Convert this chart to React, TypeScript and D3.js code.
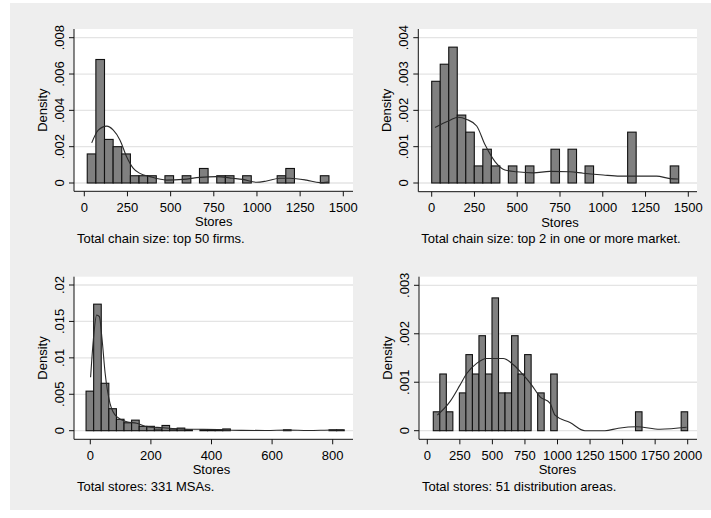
import React from 'react';
import * as d3 from 'd3';

// ---------- Panel 1: Total chain size, top 50 firms ----------
const p1BinStart = 17;
const p1BinWidth = 50;
const p1Density = [0.0016, 0.0068, 0.0024, 0.002, 0.0016, 0.0004, 0.0004, 0.0004, 0, 0.0004, 0, 0.0004, 0, 0.0008, 0, 0.0004, 0.0004, 0, 0.0004, 0, 0, 0, 0.0004, 0.0008, 0, 0, 0, 0.0004];
const p1KdeX = [43, 81, 130, 168, 207, 245, 284, 322, 380, 477, 573, 670, 766, 860, 918, 998, 1056, 1133, 1190, 1287, 1364, 1412];
const p1KdeY = [0.00221, 0.00291, 0.00313, 0.00291, 0.00236, 0.00145, 0.00081, 0.00053, 0.00035, 0.00016, 0.0002, 0.00031, 0.00035, 0.00026, 0.0002, 0.00004, 0.00011, 0.00026, 0.00026, 0.00016, 0.00002, 0.00005];
const p1XTicks = [0, 250, 500, 750, 1000, 1250, 1500];
const p1YTicks = [0, 0.002, 0.004, 0.006, 0.008];
const p1YLabels = ['0', '.002', '.004', '.006', '.008'];
const p1Caption = 'Total chain size: top 50 firms.';

// ---------- Panel 2: Total chain size, top 2 in one or more market ----------
const p2BinStart = 0;
const p2BinWidth = 49.8;
const p2Density = [0.0028, 0.00327, 0.00374, 0.00187, 0.0014, 0.00047, 0.00093, 0.00047, 0, 0.00047, 0, 0.00047, 0, 0, 0.00093, 0, 0.00093, 0, 0.00047, 0, 0, 0, 0, 0.0014, 0, 0, 0, 0, 0.00047];
const p2KdeX = [19, 107, 154, 205, 263, 312, 370, 428, 497, 594, 691, 808, 886, 1003, 1100, 1315, 1393, 1440];
const p2KdeY = [0.00153, 0.00173, 0.00181, 0.00175, 0.00157, 0.00105, 0.00059, 0.00036, 0.00031, 0.00028, 0.00032, 0.00031, 0.00027, 0.00022, 0.00019, 0.00019, 0.00012, 0.00011];
const p2XTicks = [0, 250, 500, 750, 1000, 1250, 1500];
const p2YTicks = [0, 0.001, 0.002, 0.003, 0.004];
const p2YLabels = ['0', '.001', '.002', '.003', '.004'];
const p2Caption = 'Total chain size: top 2 in one or more market.';

// ---------- Panel 3: Total stores, 331 MSAs ----------
const p3BinStart = -14;
const p3BinWidth = 25.06;
const p3Density = [0.00543, 0.01737, 0.00651, 0.00302, 0.00157, 0.00109, 0.00145, 0.0006, 0.0006, 0.00024, 0.00072, 0.00024, 0.00036, 0.00012, 0, 0.00012, 0.00012, 0.00012, 0.00024, 0, 0, 0, 0, 0, 0, 0, 0.00012, 0, 0, 0, 0, 0, 0.00012, 0.00012];
const p3KdeX = [1, 10, 21, 30, 38, 49, 65, 87, 120, 153, 186, 241, 296, 373, 420, 500, 580, 650, 720, 800, 835];
const p3KdeY = [0.00733, 0.01245, 0.01589, 0.01565, 0.0129, 0.00788, 0.00376, 0.00192, 0.00124, 0.00102, 0.00055, 0.00041, 0.00023, 0.00019, 0.00015, 0.00005, 0.00003, 0.00008, 0.00003, 0.0001, 0.0001];
const p3XTicks = [0, 200, 400, 600, 800];
const p3YTicks = [0, 0.005, 0.01, 0.015, 0.02];
const p3YLabels = ['0', '.005', '.01', '.015', '.02'];
const p3Caption = 'Total stores: 331 MSAs.';

// ---------- Panel 4: Total stores, 51 distribution areas ----------
const p4BinStart = 46;
const p4BinWidth = 50.1;
const p4Density = [0.00039, 0.00117, 0.00039, 0, 0.00078, 0.00157, 0.00117, 0.00196, 0.00117, 0.00274, 0.00078, 0.00078, 0.00196, 0.00117, 0.00157, 0, 0.00078, 0, 0.00117, 0, 0, 0, 0, 0, 0, 0, 0, 0, 0, 0, 0, 0.00039, 0, 0, 0, 0, 0, 0, 0.00039];
const p4KdeX = [77, 174, 251, 303, 379, 456, 533, 584, 661, 737, 802, 866, 942, 981, 1096, 1211, 1364, 1467, 1608, 1787, 1992];
const p4KdeY = [0.00032, 0.0006, 0.00094, 0.00118, 0.00139, 0.00149, 0.00149, 0.00149, 0.00136, 0.00115, 0.00094, 0.0007, 0.00057, 0.00032, 0.00017, 0, 0, 0.00005, 0.00008, 0.00003, 0.00007];
const p4XTicks = [0, 250, 500, 750, 1000, 1250, 1500, 1750, 2000];
const p4YTicks = [0, 0.001, 0.002, 0.003];
const p4YLabels = ['0', '.001', '.002', '.003'];
const p4Caption = 'Total stores: 51 distribution areas.';

const xTitle = 'Stores';
const yTitle = 'Density';

const FONT = "'Liberation Sans', Arial, Helvetica, sans-serif";
const FS = 13;

type Layout = {
  left: number; right: number; top: number; axisY: number;
  xRange: [number, number]; yRange: [number, number]; axisEnd: number;
};

type PanelProps = {
  layout: Layout;
  binStart: number; binWidth: number; density: number[];
  kdeX: number[]; kdeY: number[];
  xTicks: number[]; yTicks: number[]; yLabels: string[];
  caption: string;
};

function Panel(p: PanelProps) {
  const L = p.layout;
  const xDom: [number, number] = [p.xTicks[0], p.xTicks[p.xTicks.length - 1]];
  const yDom: [number, number] = [p.yTicks[0], p.yTicks[p.yTicks.length - 1]];
  const x = d3.scaleLinear().domain(xDom).range(L.xRange);
  const y = d3.scaleLinear().domain(yDom).range(L.yRange);
  const pts: [number, number][] = p.kdeX.map((v, i) => [v, p.kdeY[i]]);
  const line = d3.line<[number, number]>().x(d => x(d[0])).y(d => y(d[1])).curve(d3.curveMonotoneX);
  const bw = x(p.binWidth) - x(0);
  const midY = (L.top + L.axisY) / 2;
  const midX = (L.xRange[0] + L.xRange[1]) / 2;
  return (
    <g fontFamily={FONT} fill="#000">
      <rect x={L.left} y={L.top} width={L.right - L.left} height={L.axisY - L.top} fill="#ffffff" />
      {p.yTicks.map((t, i) => (
        <line key={'g' + i} x1={L.left} x2={L.right} y1={y(t)} y2={y(t)} stroke="#e4e4e4" strokeWidth={1.3} />
      ))}
      {p.density.map((d, i) => d > 0 ? (
        <rect key={'b' + i} x={x(p.binStart + i * p.binWidth)} y={y(d)} width={bw} height={y(0) - y(d)}
          fill="#808080" stroke="#111" strokeWidth={1.1} />
      ) : null)}
      <path d={line(pts) || ''} fill="none" stroke="#2a2a2a" strokeWidth={1.1} />
      {/* y axis */}
      <line x1={L.left} x2={L.left} y1={L.top} y2={L.axisY} stroke="#111" strokeWidth={1} />
      {p.yTicks.map((t, i) => (
        <g key={'yt' + i}>
          <line x1={L.left - 5} x2={L.left} y1={y(t)} y2={y(t)} stroke="#111" strokeWidth={1} />
          <text transform={`translate(${L.left - 10},${y(t)}) rotate(-90)`} textAnchor="middle" fontSize={FS}>{p.yLabels[i]}</text>
        </g>
      ))}
      <text transform={`translate(${L.left - 27},${midY}) rotate(-90)`} textAnchor="middle" fontSize={FS}>{yTitle}</text>
      {/* x axis */}
      <line x1={L.left} x2={L.axisEnd} y1={L.axisY} y2={L.axisY} stroke="#111" strokeWidth={1} />
      {p.xTicks.map((t, i) => (
        <g key={'xt' + i}>
          <line x1={x(t)} x2={x(t)} y1={L.axisY} y2={L.axisY + 5} stroke="#111" strokeWidth={1} />
          <text x={x(t)} y={L.axisY + 20.2} textAnchor="middle" fontSize={FS}>{String(t)}</text>
        </g>
      ))}
      <text x={midX} y={L.axisY + 34.8} textAnchor="middle" fontSize={FS}>{xTitle}</text>
      <text x={L.left + 3} y={L.axisY + 51.5} fontSize={FS}>{p.caption}</text>
    </g>
  );
}

export default function App() {
  const l1: Layout = { left: 74, right: 353, top: 29, axisY: 191.3, xRange: [84.3, 343.3], yRange: [183, 37.7], axisEnd: 353 };
  const l2: Layout = { left: 418.3, right: 697, top: 29, axisY: 191.7, xRange: [431.7, 688.3], yRange: [183, 37.7], axisEnd: 697 };
  const l3: Layout = { left: 74, right: 353, top: 276.7, axisY: 439.3, xRange: [90.3, 332.7], yRange: [430.7, 285], axisEnd: 353 };
  const l4: Layout = { left: 419, right: 697, top: 276.7, axisY: 439.3, xRange: [427.3, 687.7], yRange: [430.7, 285.3], axisEnd: 697 };
  return (
    <svg width={711} height={518} style={{ position: 'absolute', left: 0, top: 0 }}>
      <rect x={0} y={0} width={711} height={518} fill="#ffffff" />
      <rect x={10} y={3} width={701} height={507} fill="#eeeeee" />
      <Panel layout={l1} binStart={p1BinStart} binWidth={p1BinWidth} density={p1Density} kdeX={p1KdeX} kdeY={p1KdeY}
        xTicks={p1XTicks} yTicks={p1YTicks} yLabels={p1YLabels} caption={p1Caption} />
      <Panel layout={l2} binStart={p2BinStart} binWidth={p2BinWidth} density={p2Density} kdeX={p2KdeX} kdeY={p2KdeY}
        xTicks={p2XTicks} yTicks={p2YTicks} yLabels={p2YLabels} caption={p2Caption} />
      <Panel layout={l3} binStart={p3BinStart} binWidth={p3BinWidth} density={p3Density} kdeX={p3KdeX} kdeY={p3KdeY}
        xTicks={p3XTicks} yTicks={p3YTicks} yLabels={p3YLabels} caption={p3Caption} />
      <Panel layout={l4} binStart={p4BinStart} binWidth={p4BinWidth} density={p4Density} kdeX={p4KdeX} kdeY={p4KdeY}
        xTicks={p4XTicks} yTicks={p4YTicks} yLabels={p4YLabels} caption={p4Caption} />
    </svg>
  );
}
